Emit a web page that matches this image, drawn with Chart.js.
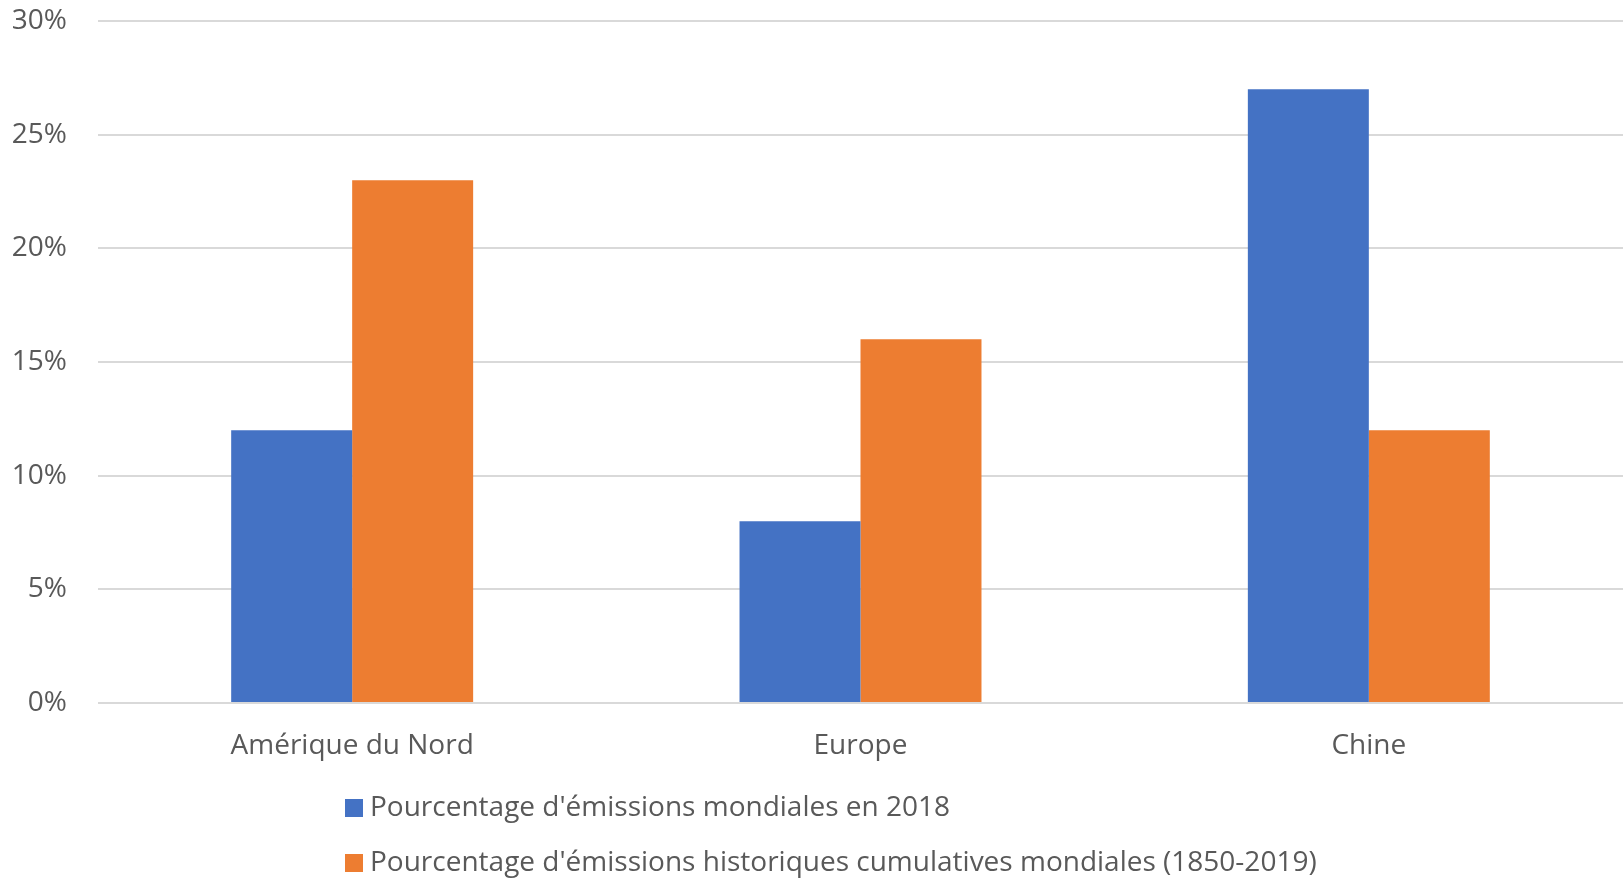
<!DOCTYPE html>
<html>
<head>
<meta charset="utf-8">
<script src="https://cdn.jsdelivr.net/npm/chart.js@4"></script>
<style>
  html, body { margin: 0; padding: 0; background: #ffffff; }
  #wrap { width: 1623px; height: 878px; }
</style>
</head>
<body>
<div id="wrap"><canvas id="c" width="1623" height="878"></canvas></div>
<script>
// Regions and their shares of CO2 emissions
const categories = ["Amérique du Nord", "Europe", "Chine"];
const seriesNames = [
  "Pourcentage d'émissions mondiales en 2018",
  "Pourcentage d'émissions historiques cumulatives mondiales (1850-2019)"
];
const emissions2018 = [12, 8, 27];
const cumulativeEmissions = [23, 16, 12];
const yTicks = [0, 5, 10, 15, 20, 25, 30];

const FONT = "'Open Sans', 'Liberation Sans', sans-serif";
const TEXT = "#595959";

// Two-row legend drawn under the axis labels
const stackedLegend = {
  id: 'stackedLegend',
  afterDraw(chart) {
    const ctx = chart.ctx;
    ctx.save();
    ctx.font = "28px " + FONT;
    ctx.textBaseline = 'middle';
    ctx.textAlign = 'left';
    const x0 = 345;
    const rows = [808, 863];
    chart.data.datasets.forEach((ds, i) => {
      const y = rows[i];
      ctx.fillStyle = ds.backgroundColor;
      ctx.fillRect(x0, y - 9, 18, 18);
      ctx.fillStyle = TEXT;
      ctx.fillText(ds.label, x0 + 25, y);
    });
    ctx.restore();
  }
};

new Chart(document.getElementById('c'), {
  type: 'bar',
  data: {
    labels: categories,
    datasets: [
      { label: seriesNames[0], data: emissions2018, backgroundColor: '#4472C4' },
      { label: seriesNames[1], data: cumulativeEmissions, backgroundColor: '#ED7D31' }
    ]
  },
  options: {
    responsive: false,
    animation: false,
    layout: { padding: { top: 21, right: 0, left: 0, bottom: 0 } },
    datasets: {
      bar: { categoryPercentage: 0.476, barPercentage: 1.0 }
    },
    plugins: {
      legend: { display: false },
      tooltip: { enabled: false }
    },
    scales: {
      x: {
        grid: { display: false, drawTicks: false },
        border: { display: false },
        ticks: {
          color: TEXT,
          font: { family: FONT, size: 28 },
          padding: 26,
          maxRotation: 0
        },
        afterFit(scale) { scale.height = 175; }
      },
      y: {
        min: 0,
        max: 30,
        afterBuildTicks(scale) { scale.ticks = yTicks.map(v => ({ value: v })); },
        grid: { color: '#D9D9D9', lineWidth: 2, drawTicks: false },
        border: { display: false },
        ticks: {
          color: TEXT,
          font: { family: FONT, size: 28 },
          padding: 31,
          callback: v => v + '%'
        },
        afterFit(scale) {
          scale.width = 98;
          scale.paddingTop = 0;
          scale.paddingBottom = 0;
        }
      }
    }
  },
  plugins: [stackedLegend]
});
</script>
</body>
</html>
